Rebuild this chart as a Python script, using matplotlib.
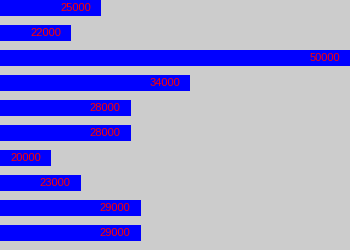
import matplotlib

matplotlib.use("Agg")
import matplotlib.pyplot as plt

values = [25000, 22000, 50000, 34000, 28000, 28000, 20000, 23000, 29000, 29000]
labels = [str(v) for v in values]

fig = plt.figure(figsize=(3.5, 2.5), dpi=100)
fig.patch.set_facecolor("#cccccc")
ax = fig.add_axes([0, 0, 1, 1])
ax.set_facecolor("#cccccc")

ypos = list(range(len(values)))
ax.barh(ypos, values, height=0.64, color="#0000ff", left=0)
for y, v, lab in zip(ypos, values, labels):
    ax.text(v - 1000, y, lab, color="#ff0000", ha="right", va="center",
            fontsize=8, family="Liberation Sans")

ax.set_xlim(14900, 50000)
ax.set_ylim(9.68, -0.32)
ax.axis("off")

fig.savefig("out.png", dpi=100, facecolor="#cccccc")
